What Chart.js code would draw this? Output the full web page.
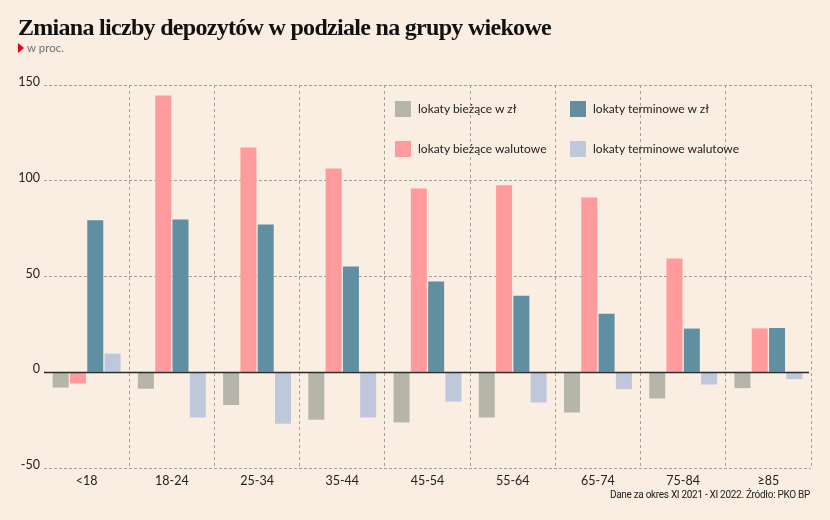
<!DOCTYPE html>
<html lang="pl">
<head>
<meta charset="utf-8">
<script src="https://cdn.jsdelivr.net/npm/chart.js@4"></script>
<style>
  html, body { margin: 0; padding: 0; background: #faede1; }
  #wrap { position: relative; width: 830px; height: 520px; }
  #chart { position: absolute; left: 0; top: 0; }
  .title { position: absolute; left: 18px; top: 14px; font-family: "Liberation Serif", serif; font-weight: bold; font-size: 24px; color: #111; letter-spacing: -0.7px; }
  .sub { position: absolute; left: 18px; top: 41px; font-family: Lato, sans-serif; font-size: 11.5px; color: #6f6f6f; }
  .sub .tri { display: inline-block; width: 0; height: 0; border-top: 5px solid transparent; border-bottom: 5px solid transparent; border-left: 6px solid #e2001a; margin-right: 3px; vertical-align: -1px; }
  .legend { position: absolute; font-family: Lato, sans-serif; font-size: 12px; color: #222; }
  .legend .item { position: absolute; white-space: nowrap; }
  .legend .sw { position: absolute; left: 0; top: 0; width: 16px; height: 16px; }
  .legend .lbl { position: absolute; left: 23px; top: 0px; line-height: 16px; }
  .source { position: absolute; right: 20px; top: 489px; font-family: Roboto, sans-serif; font-size: 10px; color: #222; letter-spacing: -0.3px; }
</style>
</head>
<body>
<div id="wrap">
  <canvas id="chart" width="830" height="520"></canvas>
  <div class="title">Zmiana liczby depozytów w podziale na grupy wiekowe</div>
  <div class="sub"><span class="tri"></span>w proc.</div>
  <div class="legend" id="legend"></div>
  <div class="source">Dane za okres XI 2021 - XI 2022. Źródło: PKO BP</div>
</div>
<script>
const ageGroups = ['<18', '18-24', '25-34', '35-44', '45-54', '55-64', '65-74', '75-84', '≥85'];
const seriesNames = ['lokaty bieżące w zł', 'lokaty bieżące walutowe', 'lokaty terminowe w zł', 'lokaty terminowe walutowe'];
const biezaceZl = [-8.0, -8.6, -17.1, -24.8, -26.2, -23.6, -21.0, -13.7, -8.3];
const biezaceWal = [-5.9, 144.5, 117.4, 106.4, 95.9, 97.6, 91.2, 59.4, 22.9];
const terminoweZl = [79.4, 79.7, 77.1, 55.2, 47.4, 40.0, 30.5, 22.8, 23.1];
const terminoweWal = [9.7, -23.6, -26.9, -23.6, -15.3, -15.8, -8.8, -6.4, -3.6];
const yTicks = [-50, 0, 50, 100, 150];

const colors = ['#b6b5a9', '#ff9b9c', '#5f8fa1', '#bec8da'];
const seriesData = [biezaceZl, biezaceWal, terminoweZl, terminoweWal];

// legend: 2x2 grid inside the plot, drawn as html
const legendPos = [[395, 101], [395, 141], [570, 101], [570, 141]];
const legend = document.getElementById('legend');
seriesNames.forEach((name, i) => {
  const it = document.createElement('div');
  it.className = 'item';
  it.style.left = legendPos[i][0] + 'px';
  it.style.top = legendPos[i][1] + 'px';
  it.innerHTML = `<span class="sw" style="background:${colors[i]}"></span><span class="lbl">${name}</span>`;
  legend.appendChild(it);
});

// solid zero line drawn on the y scale
const zeroLine = {
  id: 'zeroLine',
  afterDatasetsDraw(chart) {
    const { ctx, chartArea, scales } = chart;
    const y = Math.round(scales.y.getPixelForValue(0)) + 0.5;
    ctx.save();
    ctx.strokeStyle = '#2b2b2b';
    ctx.lineWidth = 1.3;
    ctx.beginPath();
    ctx.moveTo(chartArea.left, y);
    ctx.lineTo(chartArea.right - 2, y);
    ctx.stroke();
    ctx.restore();
  }
};

const bg = {
  id: 'bg',
  beforeDraw(chart) {
    const { ctx } = chart;
    ctx.save();
    ctx.fillStyle = '#faede1';
    ctx.fillRect(0, 0, chart.width, chart.height);
    ctx.restore();
  }
};

new Chart(document.getElementById('chart'), {
  type: 'bar',
  data: {
    labels: ageGroups,
    datasets: seriesData.map((d, i) => ({
      label: seriesNames[i],
      data: d,
      backgroundColor: colors[i],
      borderWidth: 0,
      categoryPercentage: 0.812,
      barPercentage: 0.925
    }))
  },
  options: {
    responsive: false,
    animation: false,
    layout: { padding: { top: 85, right: 19, left: 0, bottom: 22 } },
    plugins: { legend: { display: false }, tooltip: { enabled: false } },
    scales: {
      x: {
        grid: {
          offset: true,
          drawTicks: false,
          color: c => (c.index === 0 || c.index === ageGroups.length) ? 'rgba(0,0,0,0)' : '#a79f97',
          lineWidth: 1
        },
        border: { display: false, dash: [3, 3] },
        ticks: { color: '#222', font: { family: 'Lato', size: 12.5 }, padding: 5 },
        afterFit: s => { s.height = 30; }
      },
      y: {
        min: -50,
        max: 150,
        afterBuildTicks: s => { s.ticks = yTicks.map(v => ({ value: v })); },
        grid: {
          drawTicks: false,
          color: c => c.tick && c.tick.value === 0 ? 'rgba(0,0,0,0)' : '#a79f97',
          lineWidth: 1
        },
        border: { display: false, dash: [3, 2] },
        ticks: { color: '#222', font: { family: 'Lato', size: 12.5 }, padding: 4, labelOffset: -3 },
        afterFit: s => { s.width = 44; }
      }
    }
  },
  plugins: [bg, zeroLine]
});
</script>
</body>
</html>
